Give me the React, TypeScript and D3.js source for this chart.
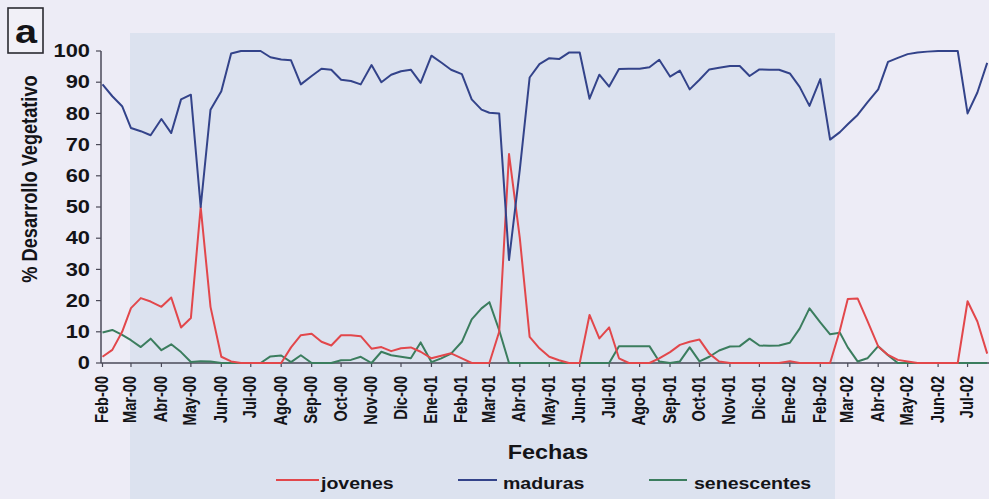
import * as d3 from "d3";

// etiquetas del eje de fechas (una por mes)
const etiquetasMes = [
  "Feb-00", "Mar-00", "Abr-00", "May-00", "Jun-00", "Jul-00", "Ago-00", "Sep-00", "Oct-00", "Nov-00",
  "Dic-00", "Ene-01", "Feb-01", "Mar-01", "Abr-01", "May-01", "Jun-01", "Jul-01", "Ago-01", "Sep-01",
  "Oct-01", "Nov-01", "Dic-01", "Ene-02", "Feb-02", "Mar-02", "Abr-02", "May-02", "Jun-02", "Jul-02",
];
// muestreo decadal: dias 1, 11 y 21 de cada mes
const diasMuestreo = [1, 11, 21];

// % Desarrollo Vegetativo, 3 valores por mes (Feb-00 ... Jul-02)
const jovenes = [
  2, 4.2, 10, 17.6, 20.8, 19.7, 18, 21, 11.4, 14.4, 50, 18, 2, 0.5, 0,
  0, 0, 0, 0, 5, 8.9, 9.4, 6.8, 5.6, 8.9, 8.9, 8.6, 4.6, 5.1, 3.8,
  4.7, 5, 3.6, 1.5, 2.3, 3.1, 1.5, 0, 0, 0, 10, 67, 40, 8.4, 4.7,
  2, 0.9, 0, 0, 15.4, 7.9, 11.4, 1.5, 0, 0, 0, 1.5, 3.5, 5.8, 6.8,
  7.5, 3, 0.5, 0, 0, 0, 0, 0, 0, 0.6, 0, 0, 0, 0, 10.5,
  20.5, 20.7, 13.5, 5.3, 2.6, 1, 0.5, 0, 0, 0, 0, 0, 19.8, 13.3, 3,
];
const maduras = [
  89.3, 85.5, 82.3, 75.3, 74.3, 73, 78.2, 73.7, 84.5, 86, 50, 81.2, 87.1, 99.2, 100,
  100, 100, 98, 97.3, 97, 89.3, 92, 94.3, 94, 90.8, 90.4, 89.3, 95.5, 90, 92.4,
  93.5, 94, 89.8, 98.5, 96.3, 94, 92.6, 84.5, 81.2, 80.2, 80, 33, 62, 91.5, 95.8,
  97.7, 97.4, 99.5, 99.5, 84.7, 92.4, 88.6, 94.2, 94.3, 94.3, 94.8, 97.2, 91.8, 93.7, 87.7,
  90.8, 94.1, 94.6, 95.2, 95.2, 92, 94.1, 94, 94, 92.8, 88.5, 82.4, 91, 71.6, 74,
  76.5, 79.5, 83.5, 87.7, 96.5, 97.8, 99, 99.5, 99.8, 100, 100, 100, 80, 86.7, 96.2,
];
const senescentes = [
  9.8, 10.6, 9, 7.3, 5.1, 7.8, 4.1, 6, 3.5, 0.3, 0.6, 0.5, 0, 0, 0,
  0, 0, 2.1, 2.4, 0.3, 2.5, 0, 0, 0, 0.9, 1, 2, 0, 3.6, 2.5,
  2, 1.5, 6.6, 0.3, 1.5, 3, 6.8, 14, 17.5, 19.5, 10.5, 0, 0, 0, 0,
  0, 0, 0, 0, 0, 0, 0, 5.4, 5.4, 5.4, 5.4, 0.5, 0, 0.5, 5,
  0.5, 2, 4, 5.3, 5.4, 7.8, 5.6, 5.5, 5.6, 6.5, 11, 17.5, 13, 9.2, 9.7,
  5, 0.5, 1.5, 5.4, 2.5, 0, 0, 0, 0, 0, 0, 0, 0, 0, 0,
];

const series = [
  { nombre: "senescentes", valores: senescentes, color: "#3b7d5e" },
  { nombre: "jovenes", valores: jovenes, color: "#e2474b" },
  { nombre: "maduras", valores: maduras, color: "#33438a" },
];

const inicio = new Date(2000, 1, 1);
const fin = new Date(2002, 7, 1);
const meses = d3.timeMonth.range(inicio, fin);
const fechas = meses.flatMap((m) => diasMuestreo.map((d) => new Date(m.getFullYear(), m.getMonth(), d)));

const W = 989;
const H = 499;
const FONT = "'Liberation Sans', Arial, sans-serif";
const INK = "#141418";
const AXIS = "#4a4a58";

export default function App() {
  const x = d3.scaleTime().domain([inicio, fin]).range([102.5, 998]);
  const y = d3.scaleLinear().domain([0, 100]).range([363, 51]);

  const line = d3
    .line<number>()
    .x((_, i) => x(fechas[i]))
    .y((d) => y(d));

  const legend = [
    { nombre: "jovenes", color: "#e2474b", x0: 276, x1: 319, tx: 321 },
    { nombre: "maduras", color: "#33438a", x0: 458, x1: 497, tx: 503 },
    { nombre: "senescentes", color: "#3b7d5e", x0: 649, x1: 687, tx: 694 },
  ];

  return (
    <div style={{ position: "absolute", left: 0, top: 0 }}>
      <svg width={W} height={H} style={{ display: "block" }} fontFamily={FONT}>
        <rect x={0} y={0} width={W} height={H} fill="#edecf6" />
        <rect x={130} y={33} width={705} height={H - 33} fill="#dce2ef" />

        {/* etiqueta del panel */}
        <rect x={8} y={8} width={35} height={45} fill="#f1f0f7" stroke="#2a2a30" strokeWidth={1.6} />
        <text transform="translate(26,43) scale(1.2,1)" textAnchor="middle" fontSize={33} fontWeight="bold" fill={INK}>
          a
        </text>

        {/* eje y */}
        <line x1={101} x2={101} y1={y(100)} y2={y(0)} stroke={AXIS} strokeWidth={1.5} />
        {y.ticks(10).map((t) => (
          <g key={t}>
            <line x1={96} x2={101} y1={y(t)} y2={y(t)} stroke={AXIS} strokeWidth={1.2} />
            <text
              transform={`translate(90,${y(t)}) scale(1.25,1)`}
              textAnchor="end"
              dominantBaseline="central"
              fontSize={17.5}
              fontWeight="bold"
              fill={INK}
            >
              {t}
            </text>
          </g>
        ))}
        <text
          transform={`translate(37,179) scale(1.2,1) rotate(-90)`}
          textAnchor="middle"
          fontSize={18.2}
          fontWeight="bold"
          fill={INK}
        >
          % Desarrollo Vegetativo
        </text>

        {/* eje x */}
        <line x1={101} x2={W} y1={y(0)} y2={y(0)} stroke={AXIS} strokeWidth={1.5} />
        {meses.map((m, i) => (
          <g key={i}>
            <line x1={x(m)} x2={x(m)} y1={y(0)} y2={y(0) + 4} stroke={AXIS} strokeWidth={1.2} />
            <text
              transform={`translate(${x(m) - 1},376) scale(1.2,1) rotate(-90)`}
              textAnchor="end"
              dominantBaseline="central"
              fontSize={14.6}
              fontWeight="bold"
              fill={INK}
            >
              {etiquetasMes[i]}
            </text>
          </g>
        ))}
        <text transform="translate(548,459) scale(1.2,1)" textAnchor="middle" fontSize={19.5} fontWeight="bold" fill={INK}>
          Fechas
        </text>

        {/* series */}
        {series.map((s) => (
          <path
            key={s.nombre}
            d={line(s.valores) ?? ""}
            fill="none"
            stroke={s.color}
            strokeWidth={2}
            strokeLinejoin="round"
          />
        ))}

        {/* leyenda */}
        {legend.map((l) => (
          <g key={l.nombre}>
            <line x1={l.x0} x2={l.x1} y1={480} y2={480} stroke={l.color} strokeWidth={2} />
            <text transform={`translate(${l.tx},489) scale(1.15,1)`} fontSize={17} fontWeight="bold" fill={INK}>
              {l.nombre}
            </text>
          </g>
        ))}
      </svg>
    </div>
  );
}
